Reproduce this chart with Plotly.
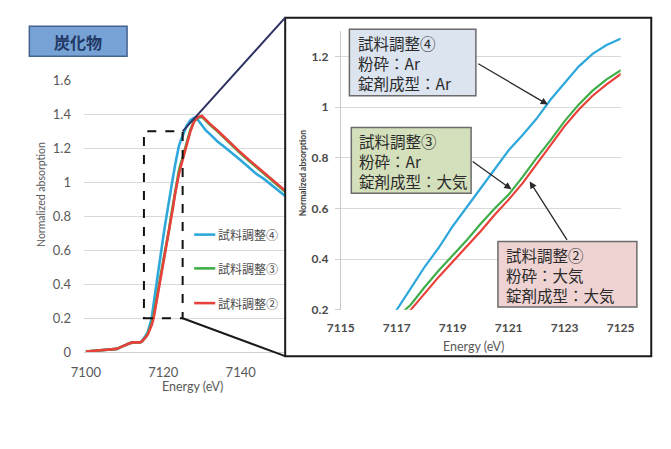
import plotly.graph_objects as go

# ---------------- data ----------------
energy = [7100, 7102, 7104, 7106, 7108, 7109, 7110, 7111, 7112, 7113, 7114, 7114.5,
          7115, 7115.5, 7116, 7116.5, 7117, 7117.5, 7118, 7118.5, 7119, 7119.5, 7120,
          7120.5, 7121, 7121.5, 7122, 7122.5, 7123, 7123.5, 7124, 7124.5, 7125,
          7126, 7127, 7128, 7129, 7130, 7131, 7132, 7134, 7136, 7138, 7140, 7142,
          7144, 7146, 7148, 7150, 7151.5]

sample4 = [0.005, 0.008, 0.012, 0.015, 0.02, 0.03, 0.042, 0.05, 0.058, 0.056, 0.058, 0.066,
           0.08, 0.10, 0.12, 0.155, 0.20, 0.285, 0.37, 0.445, 0.53, 0.605, 0.68,
           0.755, 0.83, 0.89, 0.955, 1.03, 1.095, 1.16, 1.21, 1.245, 1.27,
           1.33, 1.365, 1.38, 1.365, 1.335, 1.305, 1.285, 1.24, 1.205, 1.17, 1.13, 1.09,
           1.05, 1.02, 0.985, 0.945, 0.92]

sample3 = [0.005, 0.008, 0.012, 0.015, 0.02, 0.03, 0.042, 0.05, 0.058, 0.056, 0.058, 0.064,
           0.075, 0.09, 0.11, 0.14, 0.17, 0.22, 0.29, 0.355, 0.415, 0.475, 0.54,
           0.60, 0.655, 0.725, 0.80, 0.87, 0.945, 1.01, 1.065, 1.11, 1.145,
           1.23, 1.31, 1.36, 1.38, 1.385, 1.36, 1.34, 1.30, 1.255, 1.21, 1.17, 1.13,
           1.09, 1.055, 1.015, 0.97, 0.945]

sample2 = [0.005, 0.008, 0.012, 0.015, 0.02, 0.03, 0.042, 0.05, 0.058, 0.056, 0.058, 0.064,
           0.075, 0.09, 0.105, 0.13, 0.16, 0.20, 0.265, 0.33, 0.39, 0.45, 0.51,
           0.575, 0.635, 0.70, 0.775, 0.85, 0.925, 0.99, 1.045, 1.09, 1.13,
           1.22, 1.30, 1.36, 1.385, 1.39, 1.365, 1.345, 1.305, 1.26, 1.215, 1.175, 1.135,
           1.095, 1.06, 1.02, 0.975, 0.95]

series_names = ["試料調整④", "試料調整③", "試料調整②"]
series_values = [sample4, sample3, sample2]
series_colors = ["#2ea8dc", "#3fae49", "#e8403a"]

left_x_ticks = [7100, 7120, 7140]
left_y_ticks = [0, 0.2, 0.4, 0.6, 0.8, 1.0, 1.2, 1.4, 1.6]
left_y_labels = ["0", "0.2", "0.4", "0.6", "0.8", "1", "1.2", "1.4", "1.6"]
right_x_ticks = [7115, 7117, 7119, 7121, 7123, 7125]
right_y_ticks = [0.2, 0.4, 0.6, 0.8, 1.0, 1.2]
right_y_labels = ["0.2", "0.4", "0.6", "0.8", "1", "1.2"]

zoom_x = [7115, 7125]
zoom_y = [0.2, 1.3]
left_x_range = [7099.5, 7151.5]
left_y_range = [0, 1.6]

box_texts = [
    "試料調整④<br>粉砕：Ar<br>錠剤成型：Ar",
    "試料調整③<br>粉砕：Ar<br>錠剤成型：大気",
    "試料調整②<br>粉砕：大気<br>錠剤成型：大気",
]
box_fills = ["#dbe4ef", "#d4dfbb", "#eed3d2"]

# ---------------- layout helpers ----------------
W, H = 671, 449


def px(x):
    return x / W


def py(y):
    return 1 - y / H


L_DOM_X = [px(73), px(283)]
L_DOM_Y = [py(357), py(75)]
R_DOM_X = [px(341), px(633)]
R_DOM_Y = [py(313), py(24)]

fig = go.Figure()

for name, vals, col in zip(series_names, series_values, series_colors):
    fig.add_trace(go.Scatter(x=energy, y=vals, mode="lines", name=name,
                             line=dict(color=col, width=2.6), xaxis="x", yaxis="y",
                             showlegend=False, cliponaxis=True))
for name, vals, col in zip(series_names, series_values, series_colors):
    fig.add_trace(go.Scatter(x=energy, y=vals, mode="lines", name=name,
                             line=dict(color=col, width=2.2), xaxis="x2", yaxis="y2",
                             showlegend=False, cliponaxis=True))

tick_font_l = dict(family="Lato, Liberation Sans, sans-serif", size=13, color="#595959")
tick_font_r = dict(family="Lato, Liberation Sans, sans-serif", size=12, color="#4a4a4a", weight="bold")

fig.update_layout(
    width=W, height=H, autosize=False,
    margin=dict(l=0, r=0, t=0, b=0),
    paper_bgcolor="white", plot_bgcolor="white",
    xaxis=dict(domain=L_DOM_X, range=left_x_range, tickvals=left_x_ticks,
               showgrid=False, zeroline=False, showline=True, linecolor="#d0d0d0",
               linewidth=1, tickfont=tick_font_l, ticks="", ticklabelstandoff=8,
               anchor="y"),
    yaxis=dict(domain=L_DOM_Y, range=left_y_range, tickvals=left_y_ticks,
               ticktext=left_y_labels, showgrid=True, gridcolor="#d9d9d9", gridwidth=1,
               zeroline=False, showline=False, tickfont=tick_font_l, ticks="",
               ticklabelstandoff=12, anchor="x"),
    xaxis2=dict(domain=R_DOM_X, range=zoom_x, tickvals=right_x_ticks,
                showgrid=False, zeroline=False, showline=False, tickfont=tick_font_r,
                ticks="", ticklabelstandoff=9, anchor="y2"),
    yaxis2=dict(domain=R_DOM_Y, range=zoom_y, tickvals=right_y_ticks,
                ticktext=right_y_labels, showgrid=True, gridcolor="#d9d9d9", gridwidth=1,
                zeroline=False, showline=True, linecolor="#c8c8c8", linewidth=1,
                ticks="outside", ticklen=5, tickcolor="#d0d0d0",
                tickfont=tick_font_r, ticklabelstandoff=4, anchor="x2"),
)

shapes = []
annotations = []

# zoom rectangle on left chart
shapes.append(dict(type="rect", xref="x", yref="y", x0=zoom_x[0], x1=zoom_x[1],
                   y0=zoom_y[0], y1=zoom_y[1], line=dict(color="#111111", width=2, dash="dash")))


def left_to_paper(xv, yv):
    fx = L_DOM_X[0] + (xv - left_x_range[0]) / (left_x_range[1] - left_x_range[0]) * (L_DOM_X[1] - L_DOM_X[0])
    fy = L_DOM_Y[0] + (yv - left_y_range[0]) / (left_y_range[1] - left_y_range[0]) * (L_DOM_Y[1] - L_DOM_Y[0])
    return fx, fy


# outer box of zoomed chart
BOX = (283, 10, 665, 361)
shapes.append(dict(type="rect", xref="paper", yref="paper", x0=px(BOX[0]), x1=px(BOX[2]),
                   y0=py(BOX[3]), y1=py(BOX[1]), line=dict(color="#1a1a1a", width=2)))
tx, ty = left_to_paper(zoom_x[1], zoom_y[1])
shapes.append(dict(type="line", xref="paper", yref="paper", x0=tx, y0=ty,
                   x1=px(BOX[0]), y1=py(BOX[1]), line=dict(color="#2d3262", width=2)))
bx, by = left_to_paper(zoom_x[1], zoom_y[0])
shapes.append(dict(type="line", xref="paper", yref="paper", x0=bx, y0=by,
                   x1=px(BOX[0]), y1=py(BOX[3]), line=dict(color="#1a1a1a", width=2)))

# title box
shapes.append(dict(type="rect", xref="paper", yref="paper", x0=px(16), x1=px(118),
                   y0=py(50), y1=py(19), fillcolor="#77a2d6",
                   line=dict(color="#45638f", width=1.5)))
annotations.append(dict(text="<b>炭化物</b>", xref="paper", yref="paper", x=px(67), y=py(35),
                        showarrow=False, xanchor="center", yanchor="middle",
                        font=dict(family="Noto Sans CJK JP", size=16, color="#1f3864")))

# left legend
leg_y = [235, 270, 306]
for name, col, yy in zip(series_names, series_colors, leg_y):
    shapes.append(dict(type="line", xref="paper", yref="paper", x0=px(188), x1=px(210),
                       y0=py(yy), y1=py(yy), line=dict(color=col, width=2.6)))
    annotations.append(dict(text=name, xref="paper", yref="paper", x=px(211), y=py(yy),
                            showarrow=False, xanchor="left", yanchor="middle",
                            font=dict(family="Noto Sans CJK JP", size=12, color="#4d4d4d")))

# axis titles
annotations.append(dict(text="Energy (eV)", xref="paper", yref="paper", x=px(186), y=py(393),
                        showarrow=False, xanchor="center", yanchor="middle",
                        font=dict(family="Lato, Liberation Sans", size=12.5, color="#595959")))
annotations.append(dict(text="Normalized absorption", xref="paper", yref="paper", x=px(28), y=py(193),
                        showarrow=False, textangle=-90, xanchor="center", yanchor="middle",
                        font=dict(family="Lato, Liberation Sans", size=10.5, color="#595959")))
annotations.append(dict(text="Energy (eV)", xref="paper", yref="paper", x=px(480), y=py(351),
                        showarrow=False, xanchor="center", yanchor="middle",
                        font=dict(family="Lato, Liberation Sans", size=12.5, color="#595959")))
annotations.append(dict(text="<b>Normalized absorption</b>", xref="paper", yref="paper", x=px(301), y=py(171),
                        showarrow=False, textangle=-90, xanchor="center", yanchor="middle",
                        font=dict(family="Lato, Liberation Sans", size=8.5, color="#404040")))

# callout boxes
boxes = [(350, 22, 482, 91, 357, 57), (352, 124, 477, 192, 358, 159), (505, 242, 650, 310, 511, 277)]
for (x0, y0, x1, y1, tx_, ty_), txt, fill in zip(boxes, box_texts, box_fills):
    shapes.append(dict(type="rect", xref="paper", yref="paper", x0=px(x0), x1=px(x1),
                       y0=py(y1), y1=py(y0), fillcolor=fill, line=dict(color="#6b6b6b", width=1.5)))
    annotations.append(dict(text=txt, xref="paper", yref="paper", x=px(tx_), y=py(ty_),
                            showarrow=False, xanchor="left", yanchor="middle", align="left",
                            font=dict(family="Noto Sans CJK JP", size=15.5, color="#2b2b2b")))

# arrows (tip on curve, tail at box) in zoomed-chart data coords
arrows = [((7122.4, 1.01), (7119.86, 1.175)),
          ((7121.1, 0.676), (7119.66, 0.79)),
          ((7121.75, 0.707), (7123.12, 0.47))]
for (hx, hy), (ax_, ay_) in arrows:
    annotations.append(dict(text="", x=hx, y=hy, ax=ax_, ay=ay_, xref="x2", yref="y2",
                            axref="x2", ayref="y2", showarrow=True, arrowhead=2,
                            arrowsize=1.1, arrowwidth=1.3, arrowcolor="#2a2a2a"))

fig.update_layout(shapes=shapes, annotations=annotations)
fig.write_html("out.html",
               post_script="document.body.style.margin='0';document.body.style.padding='0';")
